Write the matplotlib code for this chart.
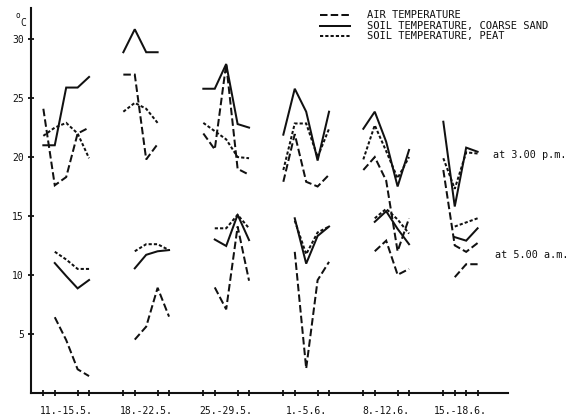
import matplotlib
matplotlib.use("Agg")
import matplotlib.pyplot as plt
from matplotlib.lines import Line2D

# ---------------- data (days counted from 11 May) ----------------
group_labels = ['11.-15.5.', '18.-22.5.', '25.-29.5.', '1.-5.6.', '8.-12.6.', '15.-18.6.']
group_start = [0, 7, 14, 21, 28, 35]
group_ndays = [5, 5, 5, 5, 5, 4]

# 3.00 p.m. readings
pm_days = [[0, 1, 2, 3, 4], [7, 8, 9, 10], [14, 15, 16, 17, 18],
           [21, 22, 23, 24, 25], [28, 29, 30, 31, 32], [35, 36, 37, 38]]
pm_air = [[24.1, 17.6, 18.3, 22.0, 22.5], [27.0, 27.0, 19.8, 21.1],
          [22.0, 20.65, 27.9, 19.0, 18.5], [17.9, 21.95, 17.9, 17.5, 18.5],
          [18.9, 20.0, 18.0, 12.0, 14.8], [18.9, 12.5, 11.95, 12.7]]
pm_sand = [[21.0, 21.0, 25.9, 25.9, 26.8], [28.9, 30.85, 28.9, 28.9],
           [25.8, 25.8, 27.9, 22.8, 22.5], [21.9, 25.8, 23.85, 19.7, 23.85],
           [22.4, 23.85, 21.3, 17.5, 20.6], [23.0, 15.8, 20.8, 20.45]]
pm_peat = [[21.8, 22.5, 22.9, 22.0, 19.9], [23.85, 24.6, 24.1, 22.9],
           [22.9, 22.2, 21.5, 20.0, 19.9], [18.9, 22.85, 22.85, 20.0, 22.4],
           [19.8, 22.7, 20.5, 18.2, 20.0], [19.9, 17.3, 20.4, 20.3]]

# 5.00 a.m. readings
am_days = [[1, 2, 3, 4], [8, 9, 10, 11], [15, 16, 17, 18],
           [22, 23, 24, 25], [29, 30, 31, 32], [36, 37, 38]]
am_air = [[6.4, 4.46, 1.98, 1.4], [4.5, 5.6, 8.9, 6.45], [8.93, 7.07, 14.1, 9.5],
          [11.95, 2.05, 9.55, 11.1], [12.0, 12.9, 10.0, 10.5], [9.8, 10.9, 10.9]]
am_sand = [[11.0, 9.9, 8.85, 9.56], [10.55, 11.7, 12.0, 12.1], [13.0, 12.45, 15.1, 12.95],
           [14.8, 10.95, 13.3, 14.1], [14.5, 15.4, 13.9, 12.6], [13.2, 12.9, 13.95]]
am_peat = [[11.96, 11.3, 10.5, 10.5], [12.0, 12.6, 12.6, 12.1], [13.95, 13.95, 15.1, 13.95],
           [14.6, 11.75, 13.6, 14.1], [14.8, 15.6, 14.7, 13.5], [14.1, 14.45, 14.8]]

series_names = ['AIR TEMPERATURE', 'SOIL TEMPERATURE, COARSE SAND', 'SOIL TEMPERATURE, PEAT']
yticks = [5, 10, 15, 20, 25, 30]

# ---------------- style ----------------
plt.rcParams['lines.scale_dashes'] = False
FONT = 'DejaVu Sans Mono'
INK = '#111111'
LW = 1.45
styles = [dict(dashes=(5.4, 2.3)), dict(linestyle='-'), dict(dashes=(2.3, 1.5))]

fig = plt.figure(figsize=(5.78, 4.15), dpi=100)
W, H = 578.0, 415.0
ax = fig.add_axes([31 / W, 1 - 392.6 / H, (508 - 31) / W, (392.6 - 8.3) / H])

for days_list, sets in ((pm_days, (pm_air, pm_sand, pm_peat)),
                        (am_days, (am_air, am_sand, am_peat))):
    for s, vals in enumerate(sets):
        for g in range(len(days_list)):
            ax.plot(days_list[g], vals[g], color=INK, lw=LW,
                    solid_joinstyle='miter', dash_joinstyle='miter', **styles[s])

ax.set_xlim(-1.08, 40.66)
ax.set_ylim(0, 32.63)

for sp in ('top', 'right'):
    ax.spines[sp].set_visible(False)
for sp in ('left', 'bottom'):
    ax.spines[sp].set_linewidth(1.5)
    ax.spines[sp].set_color(INK)

# y ticks
ax.set_yticks(yticks)
ax.set_yticklabels([str(v) for v in yticks], fontfamily=FONT, fontsize=7)
ax.tick_params(axis='y', direction='inout', length=3.8, width=1.3, pad=3.2, colors=INK)

# x: day ticks (minor) and group labels (major, no mark)
tick_days = [s + k for s, n in zip(group_start, group_ndays) for k in range(n)]
centers = [s + (n - 1) / 2 for s, n in zip(group_start, group_ndays)]
ax.set_xticks(centers)
ax.set_xticklabels(group_labels, fontfamily=FONT, fontsize=7)
ax.set_xticks(tick_days, minor=True)
ax.tick_params(axis='x', which='major', length=0, pad=9.5, colors=INK)
ax.tick_params(axis='x', which='minor', direction='inout', length=3.8, width=1.3, colors=INK)

# unit label
fig.text(17.5 / W, 1 - 15.5 / H, 'o', fontfamily=FONT, fontsize=5.5, color=INK,
         ha='center', va='center')
fig.text(23.5 / W, 1 - 22.5 / H, 'C', fontfamily=FONT, fontsize=7, color=INK,
         ha='center', va='center')

# legend drawn in figure pixels
leg_y = [15, 26, 36.5]
for s, name in enumerate(series_names):
    y = 1 - leg_y[s] / H
    fig.add_artist(Line2D([320 / W, 350 / W], [y, y], transform=fig.transFigure,
                          color=INK, lw=LW, **styles[s]))
    fig.text(367 / W, y, name, fontfamily=FONT, fontsize=7.45, color=INK,
             ha='left', va='center')

fig.text(493 / W, 1 - 155 / H, 'at 3.00 p.m.', fontfamily=FONT, fontsize=7.3,
         color=INK, ha='left', va='center')
fig.text(495 / W, 1 - 255 / H, 'at 5.00 a.m.', fontfamily=FONT, fontsize=7.3,
         color=INK, ha='left', va='center')

fig.savefig('out.png', dpi=100, facecolor='white')
